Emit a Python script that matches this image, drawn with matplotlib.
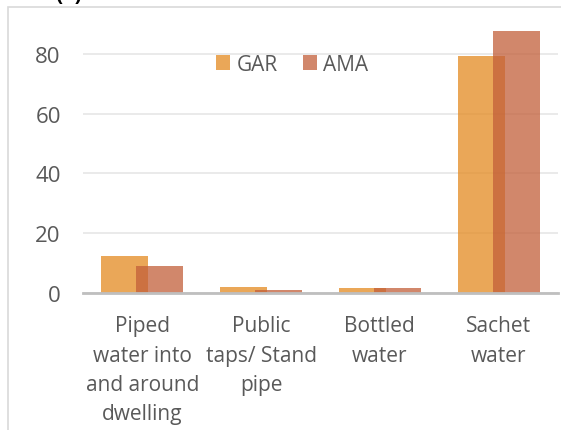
import matplotlib
matplotlib.use("Agg")
import matplotlib.pyplot as plt
import numpy as np
from matplotlib.patches import Rectangle

categories = ["Piped\nwater into\nand around\ndwelling", "Public\ntaps/ Stand\npipe",
              "Bottled\nwater", "Sachet\nwater"]
gar = [12.3, 2.0, 1.6, 79.3]
ama = [9.2, 1.0, 1.6, 87.5]
y_ticks = [0, 20, 40, 60, 80]

plt.rcParams['font.family'] = ['Open Sans', 'DejaVu Sans']
txt = '#595959'

fig = plt.figure(figsize=(5.61, 4.31), dpi=100)
W, H = 561, 431

# chart frame (top and left edges visible in crop)
fig.patches.append(Rectangle((8 / W, -0.1), 1.2, (431 - 8) / H + 0.1, transform=fig.transFigure,
                             fill=False, edgecolor='#d9d9d9', linewidth=1.2))
fig.text(55 / W, 1 - 5 / H, "(a)", fontsize=15, fontweight='bold', va='bottom', color='black')

ax = fig.add_axes([83 / W, (431 - 294) / H, 475 / W, 269 / H])
x = np.arange(len(categories))
w = 0.395
off = 0.147
ax.bar(x - off, gar, w, color='#e48a20', alpha=0.75, label='GAR', zorder=3,
       edgecolor='none')
ax.bar(x + off, ama, w, color='#c25f3a', alpha=0.75, label='AMA', zorder=3,
       edgecolor='none')

ax.set_xlim(-0.5, 3.5)
ax.set_ylim(0, 90)
ax.set_yticks(y_ticks)
ax.set_yticklabels([str(v) for v in y_ticks], fontsize=16, color=txt)
ax.set_xticks(x)
ax.set_xticklabels(categories, fontsize=15, color=txt, linespacing=1.52)
ax.tick_params(axis='both', length=0)
ax.tick_params(axis='y', pad=16)
ax.tick_params(axis='x', pad=16)
ax.grid(axis='y', color='#e6e6e6', linewidth=1.2, zorder=0)
for s in ['top', 'right', 'left']:
    ax.spines[s].set_visible(False)
ax.spines['bottom'].set_color('#bfbfbf')
ax.spines['bottom'].set_linewidth(2)
ax.spines['bottom'].set_zorder(4)

ax.legend(loc='center', bbox_to_anchor=(0.44, 0.85), ncol=2, frameon=False,
          fontsize=15, labelcolor=txt, handlelength=0.7, handleheight=0.7,
          handletextpad=0.3, columnspacing=1.2)

fig.savefig("out.png", dpi=100)
